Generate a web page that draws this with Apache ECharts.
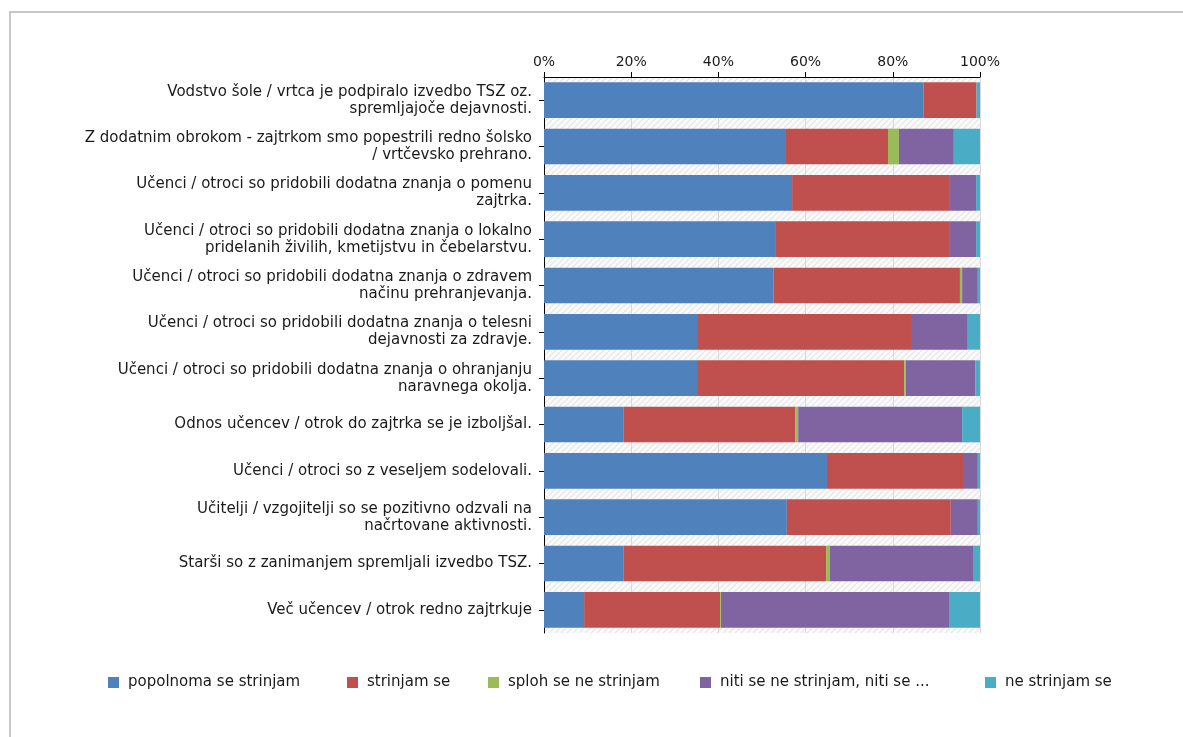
<!DOCTYPE html>
<html>
<head>
<meta charset="utf-8">
<script src="https://cdn.jsdelivr.net/npm/echarts@6/dist/echarts.min.js"></script>
<style>
html,body{margin:0;padding:0;background:#fff;}
#c{width:1183px;height:737px;}
</style>
</head>
<body>
<div id="c"></div>
<script>
const categories = [
  "Vodstvo šole / vrtca je podpiralo izvedbo TSZ oz.\nspremljajoče dejavnosti.",
  "Z dodatnim obrokom - zajtrkom smo popestrili redno šolsko\n/ vrtčevsko prehrano.",
  "Učenci / otroci so pridobili dodatna znanja o pomenu\nzajtrka.",
  "Učenci / otroci so pridobili dodatna znanja o lokalno\npridelanih živilih, kmetijstvu in čebelarstvu.",
  "Učenci / otroci so pridobili dodatna znanja o zdravem\nnačinu prehranjevanja.",
  "Učenci / otroci so pridobili dodatna znanja o telesni\ndejavnosti za zdravje.",
  "Učenci / otroci so pridobili dodatna znanja o ohranjanju\nnaravnega okolja.",
  "Odnos učencev / otrok do zajtrka se je izboljšal.",
  "Učenci / otroci so z veseljem sodelovali.",
  "Učitelji / vzgojitelji so se pozitivno odzvali na\nnačrtovane aktivnosti.",
  "Starši so z zanimanjem spremljali izvedbo TSZ.",
  "Več učencev / otrok redno zajtrkuje"
];
const seriesNames = [
  "popolnoma se strinjam",
  "strinjam se",
  "sploh se ne strinjam",
  "niti se ne strinjam, niti se ne strinjam",
  "ne strinjam se"
];
const popolnoma = [87.0, 55.5, 56.9, 53.2, 52.6, 35.1, 35.1, 18.3, 64.9, 55.7, 18.3, 9.2];
const strinjam  = [12.2, 23.4, 36.0, 39.7, 42.8, 49.3, 47.5, 39.3, 31.2, 37.6, 46.4, 31.2];
const sploh     = [0, 2.5, 0, 0, 0.5, 0, 0.4, 0.7, 0, 0, 0.9, 0.2];
const niti      = [0, 12.6, 6.2, 6.2, 3.6, 12.8, 15.9, 37.6, 3.4, 6.2, 32.8, 52.3];
const neStrinjam= [0.8, 6.0, 0.9, 0.9, 0.5, 2.8, 1.1, 4.1, 0.5, 0.5, 1.6, 7.1];
const xTicks = [0, 20, 40, 60, 80, 100];

const seriesData = [popolnoma, strinjam, sploh, niti, neStrinjam];
const colors = ["#4f81bd", "#c0504d", "#9bbb59", "#8064a2", "#4bacc6"];

// hatch pattern for plot background
const pc = document.createElement('canvas');
pc.width = 6; pc.height = 6;
const pctx = pc.getContext('2d');
pctx.fillStyle = '#fafafa';
pctx.fillRect(0,0,6,6);
pctx.strokeStyle = '#e6e6e6';
pctx.lineWidth = 1.2;
pctx.beginPath();
pctx.moveTo(0,6); pctx.lineTo(6,0);
pctx.moveTo(-3,3); pctx.lineTo(3,-3);
pctx.moveTo(3,9); pctx.lineTo(9,3);
pctx.stroke();

const FONT = "DejaVu Sans";
const legendLefts = [103, 342, 483, 695, 980];

const chart = echarts.init(document.getElementById('c'), null, {renderer: 'canvas'});
chart.setOption({
  animation: false,
  backgroundColor: '#ffffff',
  color: colors,
  graphic: [{
    type: 'rect',
    shape: {x: 10, y: 12, width: 1200, height: 800},
    style: {fill: 'none', stroke: '#c8c8c8', lineWidth: 2},
    z: -10
  }],
  grid: {
    left: 544, right: 203, top: 77, bottom: 104,
    show: true,
    backgroundColor: {image: pc, repeat: 'repeat'},
    borderWidth: 0
  },
  legend: seriesNames.map((n, i) => ({
    data: [n],
    left: legendLefts[i],
    top: 670,
    itemWidth: 11,
    itemHeight: 11,
    icon: 'rect',
    formatter: name => name.length > 28 ? name.slice(0, 28) + ' ...' : name,
    textStyle: {fontFamily: FONT, fontSize: 15, color: '#1a1a1a', padding: [0, 0, 0, 4]}
  })),
  xAxis: {
    type: 'value',
    position: 'top',
    min: 0, max: 100, interval: 20,
    axisLine: {show: true, lineStyle: {color: '#000', width: 1}},
    axisTick: {show: true, length: 5, lineStyle: {color: '#000'}},
    axisLabel: {
      margin: 8,
      fontFamily: FONT, fontSize: 14, color: '#1a1a1a',
      formatter: v => xTicks.includes(v) ? v + '%' : ''
    },
    splitLine: {show: true, lineStyle: {color: '#d9d9d9', width: 1}}
  },
  yAxis: {
    type: 'category',
    inverse: true,
    data: categories,
    axisLine: {show: true, lineStyle: {color: '#000', width: 1}},
    axisTick: {show: true, alignWithLabel: true, length: 5, lineStyle: {color: '#000'}},
    axisLabel: {
      margin: 12,
      fontFamily: FONT, fontSize: 15, color: '#1a1a1a',
      lineHeight: 17, align: 'right'
    }
  },
  series: seriesNames.map((n, i) => ({
    name: n,
    type: 'bar',
    stack: 'total',
    barCategoryGap: '23%',
    data: seriesData[i],
    itemStyle: {color: colors[i]}
  }))
});
</script>
</body>
</html>
